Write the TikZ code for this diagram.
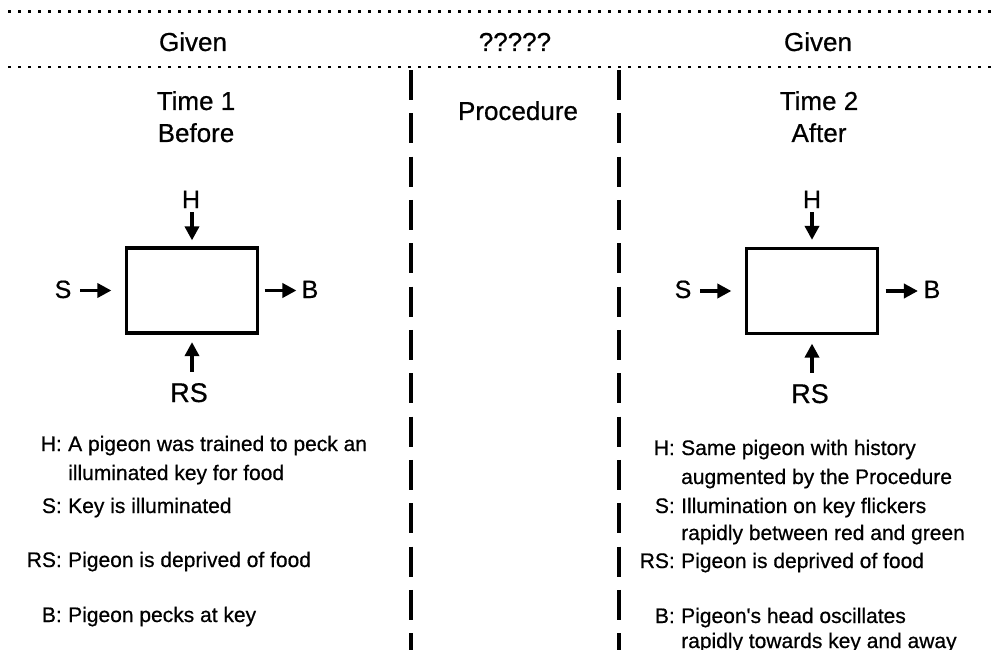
\documentclass[tikz,border=0pt]{standalone}
\usepackage{fontspec}
\setmainfont{Liberation Sans}[FakeBold=0.6]
\usetikzlibrary{arrows.meta}
\begin{document}
\begin{tikzpicture}[x=1pt,y=-1pt,
  heading/.style={anchor=base, inner sep=0pt, font=\fontsize{26}{30}\selectfont},
  boxlabel/.style={anchor=base, inner sep=0pt, font=\fontsize{25}{30}\selectfont},
  biglabel/.style={boxlabel, font=\fontsize{27}{30}\selectfont},
  key/.style={anchor=base east, inner sep=0pt, font=\fontsize{21}{26}\selectfont},
  desc/.style={anchor=base west, inner sep=0pt, font=\fontsize{21}{26}\selectfont},
  blackbox/.style={draw, line width=3.2pt, minimum width=131pt, minimum height=85pt, inner sep=0pt},
  arr/.style={line width=3.5pt, -{Triangle[length=14pt,width=14pt]}},
  rule/.style={line width=2.2pt, dash pattern=on 3pt off 7pt},
  divider/.style={line width=4pt, dash pattern=on 30pt off 13.33pt},
]
\useasboundingbox (0,0) rectangle (994,650);

% dotted header rules
\draw[rule] (8,11.5) -- (994,11.5);
\draw[rule] (8,67) -- (994,67);

% column dividers
\draw[divider] (411,70) -- (411,660);
\draw[divider] (619,70) -- (619,660);

% headings
\node[heading] (givenl) at (193,51) {Given};
\node[heading] (unknown) at (515,51) {?????};
\node[heading] (givenr) at (818,51) {Given};
\node[heading] (time1) at (196,110) {Time 1};
\node[heading] (before) at (196,142) {Before};
\node[heading] (proc) at (518,120) {Procedure};
\node[heading] (time2) at (819,110) {Time 2};
\node[heading] (after) at (819,142) {After};

% left model: time 1
\node[blackbox] (boxl) at (192,290.5) {};
\node[boxlabel] (Hl) at (191,208) {H};
\node[boxlabel] (Sl) at (63,298) {S};
\node[boxlabel] (Bl) at (310,298) {B};
\node[biglabel] (RSl) at (189,402) {RS};
\draw[arr, shorten <=4pt, shorten >=6pt] (boxl.north |- Hl.south) -- (boxl.north);
\draw[arr, shorten <=8.5pt, shorten >=13.5pt] (Sl.east |- boxl.west) -- (boxl.west);
\draw[arr, shorten <=5.5pt, shorten >=5pt] (boxl.east) -- (Bl.west |- boxl.east);
\draw[arr, shorten <=11pt, shorten >=7.5pt] (boxl.south |- RSl.north) -- (boxl.south);

% right model: time 2
\node[blackbox] (boxr) at (812,291) {};
\node[boxlabel] (Hr) at (812,208) {H};
\node[boxlabel] (Sr) at (683,298) {S};
\node[boxlabel] (Br) at (932,298) {B};
\node[biglabel] (RSr) at (810,403) {RS};
\draw[arr, shorten <=4pt, shorten >=7pt] (boxr.north |- Hr.south) -- (boxr.north);
\draw[arr, shorten <=8.5pt, shorten >=13.5pt] (Sr.east |- boxr.west) -- (boxr.west);
\draw[arr, shorten <=6.5pt, shorten >=5.5pt] (boxr.east) -- (Br.west |- boxr.east);
\draw[arr, shorten <=11pt, shorten >=8.5pt] (boxr.south |- RSr.north) -- (boxr.south);

% left key
\node[key]  (kHl)   at (62,451) {H:};
\node[desc] (dHl)   at (68,451) {A pigeon was trained to peck an};
\node[desc] (dHlb)  at (68,480) {illuminated key for food};
\node[key]  (kSl)   at (62,513) {S:};
\node[desc] (dSl)   at (68,513) {Key is illuminated};
\node[key]  (kRSl)  at (62,567) {RS:};
\node[desc] (dRSl)  at (68,567) {Pigeon is deprived of food};
\node[key]  (kBl)   at (62,622) {B:};
\node[desc] (dBl)   at (68,622) {Pigeon pecks at key};

% right key
\node[key]  (kHr)   at (675,455) {H:};
\node[desc] (dHr)   at (681,455) {Same pigeon with history};
\node[desc] (dHrb)  at (681,484) {augmented by the Procedure};
\node[key]  (kSr)   at (675,513) {S:};
\node[desc] (dSr)   at (681,513) {Illumination on key flickers};
\node[desc] (dSrb)  at (681,540) {rapidly between red and green};
\node[key]  (kRSr)  at (675,568) {RS:};
\node[desc] (dRSr)  at (681,568) {Pigeon is deprived of food};
\node[key]  (kBr)   at (675,623) {B:};
\node[desc] (dBr)   at (681,623) {Pigeon\textquotesingle s head oscillates};
\node[desc] (dBrb)  at (681,648) {rapidly towards key and away};
\end{tikzpicture}
\end{document}
